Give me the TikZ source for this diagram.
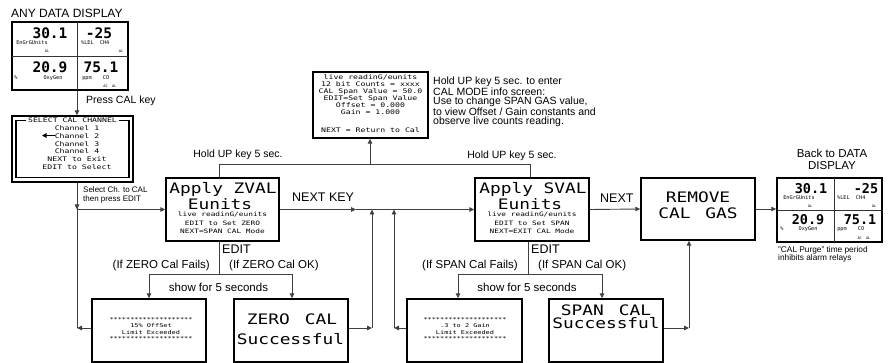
\documentclass[tikz,border=0pt]{standalone}
\usepackage{fontspec}
\usepackage{graphicx}
\setmainfont{Liberation Sans}
\newfontfamily\lcd{DejaVu Sans Mono}
\usetikzlibrary{arrows.meta}
\newcommand\lcdw[1]{\scalebox{1.3}[1]{#1}}
\newcommand\bigw[1]{\scalebox{1.05}[0.85]{#1}}
\begin{document}
\begin{tikzpicture}[x=1pt,y=-1pt,
  box/.style={draw=black, line width=1.4pt, inner sep=0pt, fill=white},
  conn/.style={draw=black!75, line width=0.9pt},
  arr/.style={conn, -{Triangle[length=5pt,width=4.5pt]}},
  lbl/.style={inner sep=0pt, font=\fontsize{11.5}{12}\selectfont},
  hlbl/.style={inner sep=0pt, font=\fontsize{10.5}{11}\selectfont},
  klbl/.style={inner sep=0pt, font=\fontsize{12.5}{13}\selectfont},
  bigt/.style={inner sep=0pt, font=\lcd\fontsize{17}{15}\selectfont},
  digA/.style={inner sep=0pt, font=\lcd\bfseries\fontsize{14.5}{15}\selectfont},
  digB/.style={inner sep=0pt, font=\lcd\bfseries\fontsize{13.5}{14}\selectfont},
  subt/.style={inner sep=0pt, font=\lcd\fontsize{5.2}{6}\selectfont},
  tinyt/.style={inner sep=0pt, font=\lcd\fontsize{3.6}{4}\selectfont},
  smt/.style={inner sep=0pt, align=center, font=\lcd\fontsize{6}{8.6}\selectfont},
  divl/.style={draw=black!80, line width=0.9pt}
]
\useasboundingbox (0,0) rectangle (888,363);

% ---------- first data display ----------
\node[inner sep=0pt, font=\fontsize{12}{12}\selectfont, anchor=base west] (tAny) at (11,17.3) {ANY DATA DISPLAY};
\node[box, minimum width=116, minimum height=68] (disp1) at (70,56) {};
\draw[divl] (77,22) -- (77,90);
\draw[divl] (12,56) -- (128,56);
\node[digA] (d1a) at (50,33) {30.1};
\node[subt, anchor=base] (d1b) at (32,45) {EnGrGUnits};
\node[tinyt] (d1c) at (47,51) {AL};
\node[digA] (d1d) at (99,33) {-25};
\node[subt, anchor=base west] (d1e) at (81,45) {\%LEL\ \ CH4};
\node[tinyt] (d1f) at (121,51) {AL};
\node[digA] (d1g) at (50,67.5) {20.9};
\node[subt, anchor=base] (d1h) at (16,79.5) {\%};
\node[subt, anchor=base] (d1i) at (53,79.5) {OxyGen};
\node[digA] (d1j) at (101,67.5) {75.1};
\node[subt, anchor=base] (d1k) at (87,79.5) {ppm};
\node[subt, anchor=base] (d1l) at (106,79.5) {CO};
\node[tinyt] (d1m) at (110,86.5) {AC\ \ AL};

\node[hlbl, anchor=base west] (tPress) at (86,104) {Press CAL key};

% ---------- select channel box ----------
\node[box, minimum width=121, minimum height=66] (sel) at (72.5,149) {};
\node[draw=black, line width=1.1pt, inner sep=0pt, minimum width=113, minimum height=57] (selin) at (72.5,149.2) {};
\node[smt, fill=white, inner xsep=2pt, inner ysep=0.5pt, font=\lcd\fontsize{6.3}{7}\selectfont] (selT) at (72.5,120.7) {\lcdw{SELECT CAL CHANNEL}};
\node[smt, font=\lcd\fontsize{6.3}{7.7}\selectfont] (selL) at (77,147.5) {\lcdw{Channel 1}\\\lcdw{Channel 2}\\\lcdw{Channel 3}\\\lcdw{Channel 4}\\\lcdw{NEXT to Exit}\\\lcdw{EDIT to Select}};
\draw[line width=1.3pt, -{Triangle[length=4.5pt,width=4.5pt]}] (55,135.5) -- (42,135.5);

\node[inner sep=0pt, align=left, anchor=base west, font=\fontsize{8}{9}\selectfont] (tSel) at (83,202) {Select Ch. to CAL\\then press EDIT};

% ---------- main boxes ----------
\node[box, minimum width=113, minimum height=63] (zval) at (222.5,209.5) {};
\node[bigt, anchor=base] (zA) at (223,194) {\bigw{Apply ZVAL}};
\node[bigt, anchor=base] (zB) at (220,209.5) {\bigw{Eunits}};
\node[smt] (zC) at (222.5,223) {\lcdw{live readinG/eunits}\\\lcdw{EDIT to Set ZERO}\\\lcdw{NEXT=SPAN CAL Mode}};

\node[box, minimum width=114, minimum height=63] (sval) at (532,209.5) {};
\node[bigt, anchor=base] (sA) at (533,194) {\bigw{Apply SVAL}};
\node[bigt, anchor=base] (sB) at (530,209.5) {\bigw{Eunits}};
\node[smt] (sC) at (532,223) {\lcdw{live readinG/eunits}\\\lcdw{EDIT to Set SPAN}\\\lcdw{NEXT=EXIT CAL Mode}};

\node[box, minimum width=115, minimum height=66] (info) at (370.5,105) {};
\node[smt, font=\lcd\fontsize{6.3}{7}\selectfont] (iA) at (370.5,94.5) {\lcdw{live readinG/eunits}\\\lcdw{12 bit Counts = xxxx}\\\lcdw{CAL Span Value = 50.0}\\\lcdw{EDIT=Set Span Value}\\\lcdw{Offset = 0.000}\\\lcdw{Gain = 1.000}};
\node[smt, font=\lcd\fontsize{6.3}{7}\selectfont] (iB) at (370.5,130) {\lcdw{NEXT = Return to Cal}};
\node[inner sep=0pt, align=left, anchor=base west, font=\fontsize{10.5}{9.5}\selectfont] (tInfo) at (433,124.8) {Hold UP key 5 sec. to enter\\CAL MODE info screen:\\Use to change SPAN GAS value,\\to view Offset / Gain constants and\\observe live counts reading.};

\node[box, minimum width=114, minimum height=62] (rem) at (698,209) {};
\node[bigt, anchor=base] (rA) at (698,202.5) {\bigw{REMOVE}};
\node[bigt, anchor=base] (rB) at (698,218.5) {\bigw{CAL\kern4pt\ GAS}};

\node[box, minimum width=105, minimum height=64] (disp2) at (829.5,210) {};
\draw[divl] (834,178) -- (834,242);
\draw[divl] (777,210) -- (882,210);
\node[digB] (d2a) at (811,189) {30.1};
\node[subt, anchor=base] (d2b) at (799,200) {EnGrGUnits};
\node[tinyt] (d2c) at (810,206) {AL};
\node[digB] (d2d) at (866,189) {-25};
\node[subt, anchor=base west] (d2e) at (837,200) {\%LEL\ \ CH4};
\node[tinyt] (d2f) at (874,206) {AL};
\node[digB] (d2g) at (808,220) {20.9};
\node[subt, anchor=base] (d2h) at (782,231) {\%};
\node[subt, anchor=base] (d2i) at (808,231) {OxyGen};
\node[digB] (d2j) at (860,220) {75.1};
\node[subt, anchor=base] (d2k) at (842,231) {ppm};
\node[subt, anchor=base] (d2l) at (861,231) {CO};
\node[tinyt] (d2m) at (864,238.5) {AC\ \ AL};
\node[lbl, anchor=base, align=center] (tBack) at (832,170) {Back to DATA\\DISPLAY};
\node[inner sep=0pt, align=left, anchor=base west, font=\fontsize{8.3}{9}\selectfont] (tPurge) at (778,261) {"CAL Purge" time period\\inhibits alarm relays};

% ---------- bottom boxes ----------
\node[box, minimum width=114, minimum height=63] (err1) at (149,330.5) {};
\node[smt, font=\lcd\fontsize{5.3}{6.5}\selectfont] (e1t) at (151,329) {\lcdw{********************}\\\lcdw{15\% OffSet}\\\lcdw{Limit Exceeded}\\\lcdw{********************}};
\node[box, minimum width=114, minimum height=63] (zok) at (291,330.5) {};
\node[bigt, anchor=base] (zokA) at (292,324) {\bigw{ZERO\kern4pt\ CAL}};
\node[bigt, anchor=base] (zokB) at (290.5,344) {\bigw{Successful}};
\node[box, minimum width=115, minimum height=63] (serr) at (464.5,330.5) {};
\node[smt, font=\lcd\fontsize{5.3}{6.5}\selectfont] (e2t) at (465,329) {\lcdw{********************}\\\lcdw{.3 to 2 Gain}\\\lcdw{Limit Exceeded}\\\lcdw{********************}};
\node[box, minimum width=114, minimum height=63] (sok) at (606,330.5) {};
\node[bigt, anchor=base] (sokA) at (606,315) {\bigw{SPAN\kern4pt\ CAL}};
\node[bigt, anchor=base] (sokB) at (606,328.5) {\bigw{Successful}};

% ---------- labels ----------
\node[hlbl, anchor=base] (tH1) at (238,158) {Hold UP key 5 sec.};
\node[hlbl, anchor=base] (tH2) at (512,159) {Hold UP key 5 sec.};
\node[klbl, anchor=base west] (tNK) at (292,201.5) {NEXT KEY};
\node[klbl, anchor=base west] (tN) at (600,202.5) {NEXT};
\node[klbl, anchor=base west] (tE1) at (222,253.5) {EDIT};
\node[klbl, anchor=base west] (tE2) at (531,253.5) {EDIT};
\node[lbl, anchor=base east] (tF1) at (210,269) {(If ZERO Cal Fails)};
\node[lbl, anchor=base west] (tO1) at (229,269) {(If ZERO Cal OK)};
\node[lbl, anchor=base east] (tF2) at (518,269) {(If SPAN Cal Fails)};
\node[lbl, anchor=base west] (tO2) at (538,269) {(If SPAN Cal OK)};
\node[lbl, anchor=base] (tS1) at (218.5,291) {show for 5 seconds};
\node[lbl, anchor=base] (tS2) at (527,291) {show for 5 seconds};

% ---------- junction coordinates ----------
\coordinate (j1) at (77,209.5);
\coordinate (j2) at (77,328);
\coordinate (h1) at (219,164);
\coordinate (h2) at (530,164);
\coordinate (h3) at (370,164);
\coordinate (m1) at (356,209.5);
\coordinate (e1) at (219,274);
\coordinate (e1l) at (149,274);
\coordinate (e1r) at (292,274);
\coordinate (e2) at (528,274);
\coordinate (e2l) at (458,274);
\coordinate (e2r) at (602,274);
\coordinate (r1) at (372,328);
\coordinate (r2) at (394,328);
\coordinate (r3) at (689,328);

% ---------- connectors ----------
\draw[arr] (disp1.south -| j1) -- (sel.north -| j1);
\draw[conn] (sel.south -| j1) -- (j2);
\draw[arr] (sel.south -| j1) -- (j1);
\draw[arr] (j1) -- (zval.west);
\draw[arr] (err1.west |- j2) -- (j2);

\draw[conn] (zval.north -| h1) -- (h1) -- (h2) -- (sval.north -| h2);
\draw[arr] (h3) -- (info.south -| h3);

\draw[arr] (zval.east) -- (m1);
\draw[arr] (m1) -- (sval.west);

\draw[conn] (zval.south -| e1) -- (e1);
\draw[arr] (e1) -- (e1l) -- (err1.north -| e1l);
\draw[arr] (e1) -- (e1r) -- (zok.north -| e1r);
\draw[conn] (sval.south -| e2) -- (e2);
\draw[arr] (e2) -- (e2l) -- (serr.north -| e2l);
\draw[arr] (e2) -- (e2r) -- (sok.north -| e2r);

\draw[arr] (zok.east |- r1) -- (r1);
\draw[arr] (r1) -- (r1 |- zval.east);
\draw[arr] (serr.west |- r2) -- (r2);
\draw[arr] (r2) -- (r2 |- zval.east);

\draw[arr] (sok.east |- r3) -- (r3);
\draw[arr] (r3) -- (rem.south -| r3);
\draw[arr] (sval.east) -- (rem.west);
\draw[arr] (rem.east) -- (disp2.west |- rem.east);
\end{tikzpicture}
\end{document}
